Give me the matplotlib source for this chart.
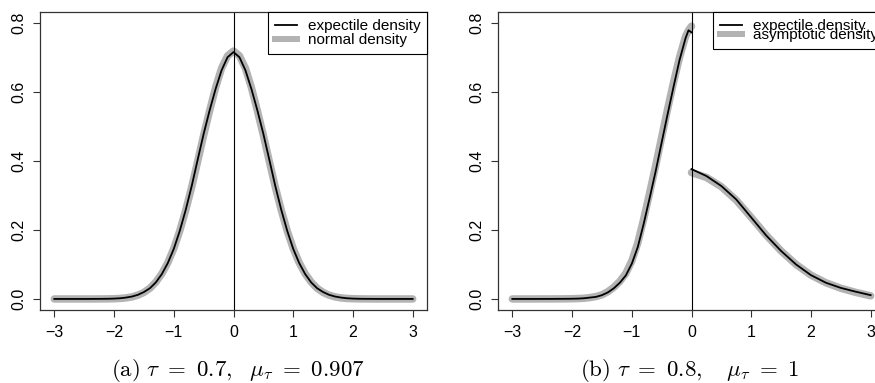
import numpy as np
import matplotlib
matplotlib.use("Agg")
import matplotlib.pyplot as plt
from matplotlib.lines import Line2D

plt.rcParams['font.family'] = ['Liberation Sans', 'DejaVu Sans']
plt.rcParams['mathtext.fontset'] = 'cm'

# panel (a): tau = 0.7
x_a = np.round(np.arange(-3.0, 3.05, 0.1), 2)
half_expectile_a = [0.715, 0.700, 0.662, 0.608, 0.546, 0.478, 0.403, 0.327, 0.258, 0.197,
                    0.145, 0.104, 0.072, 0.048, 0.031, 0.020, 0.012, 0.007, 0.004, 0.002,
                    0.001, 0.0005, 0.0003, 0.0002, 0.0001, 0.0, 0.0, 0.0, 0.0, 0.0, 0.0]
half_normal_a = [0.718, 0.704, 0.668, 0.612, 0.545, 0.474, 0.398, 0.324, 0.257, 0.197,
                 0.146, 0.105, 0.073, 0.049, 0.031, 0.019, 0.011, 0.006, 0.003, 0.0015,
                 0.0007, 0.0003, 0.0001, 0.0, 0.0, 0.0, 0.0, 0.0, 0.0, 0.0, 0.0]
expectile_a = half_expectile_a[:0:-1] + half_expectile_a
normal_a = half_normal_a[:0:-1] + half_normal_a

# panel (b): tau = 0.8, density jumps at 0
x_b_left = [-3.0, -2.9, -2.8, -2.7, -2.6, -2.5, -2.4, -2.3, -2.2, -2.1, -2.0, -1.9, -1.8,
            -1.7, -1.6, -1.5, -1.4, -1.3, -1.2, -1.1, -1.0, -0.9, -0.8, -0.7, -0.6, -0.5,
            -0.4, -0.3, -0.2, -0.1, -0.05, 0.0]
expectile_b_left = [0.0, 0.0, 0.0, 0.0, 0.0, 0.0001, 0.0001, 0.0002, 0.0003, 0.0004, 0.0006,
                    0.001, 0.002, 0.004, 0.006, 0.011, 0.019, 0.031, 0.047, 0.068, 0.102,
                    0.150, 0.218, 0.293, 0.370, 0.453, 0.535, 0.615, 0.692, 0.755, 0.778,
                    0.772]
asympt_b_left = [0.0, 0.0, 0.0, 0.0, 0.0, 0.0001, 0.0001, 0.0002, 0.0003, 0.0004, 0.0007,
                 0.0012, 0.002, 0.004, 0.007, 0.012, 0.021, 0.034, 0.051, 0.074, 0.110,
                 0.162, 0.232, 0.308, 0.386, 0.468, 0.550, 0.628, 0.700, 0.760, 0.778,
                 0.790]
x_b_right = [0.0, 0.25, 0.5, 0.75, 1.0, 1.25, 1.5, 1.75, 2.0, 2.25, 2.5, 2.75, 3.0]
expectile_b_right = [0.376, 0.356, 0.327, 0.288, 0.236, 0.184, 0.139, 0.100, 0.069, 0.047,
                     0.032, 0.021, 0.011]
asympt_b_right = [0.366, 0.352, 0.325, 0.286, 0.236, 0.185, 0.139, 0.100, 0.069, 0.047,
                  0.031, 0.019, 0.009]

xticks = [-3, -2, -1, 0, 1, 2, 3]
yticks = [0.0, 0.2, 0.4, 0.6, 0.8]
ytick_labels = ["0.0", "0.2", "0.4", "0.6", "0.8"]

GRAY = "#b3b3b3"
GRAY_LW = 5.4
BLACK_LW = 1.3

fig = plt.figure(figsize=(8.75, 3.83), dpi=100)
ax_a = fig.add_axes([40 / 875, 73 / 383, 387 / 875, 298 / 383])
ax_b = fig.add_axes([498 / 875, 73 / 383, 387 / 875, 298 / 383])


def style_axes(ax):
    ax.set_xlim(-3.24, 3.24)
    ax.set_ylim(-0.032, 0.831)
    ax.set_xticks(xticks)
    ax.set_xticklabels(["\u22123", "\u22122", "\u22121", "0", "1", "2", "3"])
    ax.set_yticks(yticks)
    ax.set_yticklabels(ytick_labels, rotation=90, va="center")
    ax.tick_params(axis="both", direction="out", length=5, width=0.8,
                   labelsize=11.5, color="#333333")
    ax.tick_params(axis="x", pad=6)
    ax.tick_params(axis="y", pad=5)
    for sp in ax.spines.values():
        sp.set_linewidth(0.9)
        sp.set_color("#333333")
    ax.axvline(0, color="black", lw=0.8)


def add_legend(ax, gray_label, spacing):
    handles = [Line2D([], [], color="black", lw=BLACK_LW),
               Line2D([], [], color=GRAY, lw=GRAY_LW * 0.8)]
    leg = ax.legend(handles, ["expectile density", gray_label], loc="upper right",
                    borderaxespad=0, fancybox=False, framealpha=1, edgecolor="black",
                    fontsize=11, handlelength=1.45, handletextpad=0.7,
                    borderpad=0.45, labelspacing=spacing)
    leg.get_frame().set_linewidth(0.8)


# panel (a)
ax_a.plot(x_a, normal_a, color=GRAY, lw=GRAY_LW, solid_capstyle="round",
          solid_joinstyle="round")
ax_a.plot(x_a, expectile_a, color="black", lw=BLACK_LW, solid_joinstyle="round")
style_axes(ax_a)
add_legend(ax_a, "normal density", 0.0)

# panel (b)
for xs, ys in [(x_b_left, asympt_b_left), (x_b_right, asympt_b_right)]:
    ax_b.plot(xs, ys, color=GRAY, lw=GRAY_LW, solid_capstyle="round",
              solid_joinstyle="round")
for xs, ys in [(x_b_left, expectile_b_left), (x_b_right, expectile_b_right)]:
    ax_b.plot(xs, ys, color="black", lw=BLACK_LW, solid_joinstyle="round")
style_axes(ax_b)
add_legend(ax_b, "asymptotic density", -0.3)

fig.text(238 / 875, 13 / 383,
         r"$\mathrm{(a)}\ \tau\ =\ 0.7,\ \ \mu_\tau\ =\ 0.907$",
         ha="center", va="center", fontsize=16.5)
fig.text(690 / 875, 13 / 383,
         r"$\mathrm{(b)}\ \tau\ =\ 0.8,\ \ \ \mu_\tau\ =\ 1$",
         ha="center", va="center", fontsize=16.5)

fig.savefig("out.png", dpi=100)
